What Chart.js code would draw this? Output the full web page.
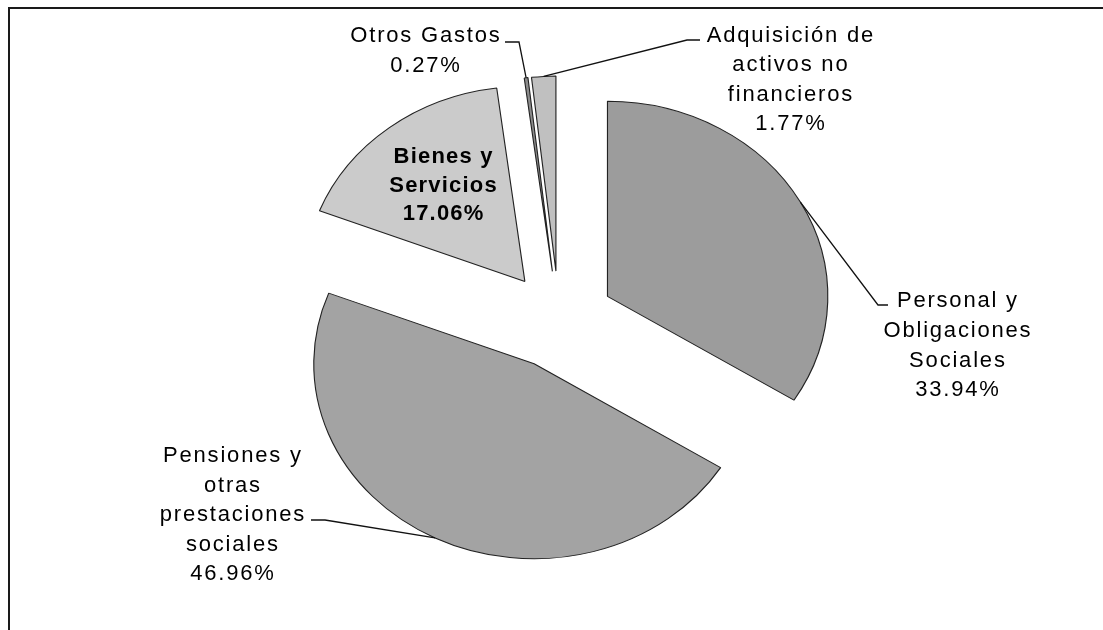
<!DOCTYPE html>
<html>
<head>
<meta charset="utf-8">
<script src="https://cdn.jsdelivr.net/npm/chart.js@4.4.0/dist/chart.umd.min.js"></script>
<style>
html,body{margin:0;padding:0;background:#fff;overflow:hidden}
canvas{display:block}
</style>
</head>
<body>
<canvas id="c" width="1103" height="630"></canvas>
<script>
// ---- data ----
const categories = [
  'Personal y Obligaciones Sociales',
  'Pensiones y otras prestaciones sociales',
  'Bienes y Servicios',
  'Otros Gastos',
  'Adquisición de activos no financieros'
];
const shares = [33.94, 46.96, 17.06, 0.27, 1.77];
const labelLines = [
  ['Personal y', 'Obligaciones', 'Sociales'],
  ['Pensiones y', 'otras', 'prestaciones', 'sociales'],
  ['Bienes y', 'Servicios'],
  ['Otros Gastos'],
  ['Adquisición de', 'activos no', 'financieros']
];
const sliceColors = ['#9c9c9c', '#a3a3a3', '#cbcbcb', '#8c8c8c', '#c0c0c0'];

// ---- layout (text anchors, leader elbows) ----
const labelLayout = [
  { x: 957, y: 307, lh: 29.8, lead: [[878, 305], [888, 305]] },
  { x: 232, y: 462, lh: 29.5, lead: [[325, 520], [311, 520]] },
  { x: 443, y: 163, lh: 28.5, bold: true },
  { x: 425, y: 42,  lh: 30,   lead: [[519, 42], [505, 42]] },
  { x: 790, y: 42,  lh: 29.4, lead: [[687, 40], [700, 40]] }
];
const EXPLODE = 49;     // radial shift of every slice
const STRETCH = 1.13;   // horizontal stretch of the pie

const explodePlugin = {
  id: 'explode',
  afterDatasetUpdate(chart, args) {
    args.meta.data.forEach(arc => {
      const mid = (arc.startAngle + arc.endAngle) / 2;
      arc.x += Math.cos(mid) * EXPLODE;
      arc.y += Math.sin(mid) * EXPLODE;
    });
  },
  beforeDatasetsDraw(chart) {
    const ctx = chart.ctx;
    const cx = (chart.chartArea.left + chart.chartArea.right) / 2;
    ctx.save();
    ctx.translate(cx, 0);
    ctx.scale(STRETCH, 1);
    ctx.translate(-cx, 0);
  },
  afterDatasetsDraw(chart) {
    chart.ctx.restore();
  }
};

const framePlugin = {
  id: 'frame',
  beforeDraw(chart) {
    const ctx = chart.ctx;
    ctx.save();
    ctx.fillStyle = '#fff';
    ctx.fillRect(0, 0, chart.width, chart.height);
    ctx.strokeStyle = '#1a1a1a';
    ctx.lineWidth = 2;
    ctx.beginPath();
    ctx.moveTo(9, chart.height);
    ctx.lineTo(9, 8);
    ctx.lineTo(chart.width, 8);
    ctx.stroke();
    ctx.restore();
  }
};

const labelPlugin = {
  id: 'labels',
  afterDraw(chart) {
    const ctx = chart.ctx;
    const meta = chart.getDatasetMeta(0);
    const cx = (chart.chartArea.left + chart.chartArea.right) / 2;
    ctx.save();
    meta.data.forEach((arc, i) => {
      const L = labelLayout[i];
      const mid = (arc.startAngle + arc.endAngle) / 2;
      if (L.lead) {
        const px = arc.x + Math.cos(mid) * arc.outerRadius;
        const py = arc.y + Math.sin(mid) * arc.outerRadius;
        const sx = cx + (px - cx) * STRETCH;
        ctx.strokeStyle = '#111';
        ctx.lineWidth = 1.3;
        ctx.beginPath();
        ctx.moveTo(sx, py);
        L.lead.forEach(p => ctx.lineTo(p[0], p[1]));
        ctx.stroke();
      }
      const lines = labelLines[i].concat([shares[i].toFixed(2) + '%']);
      ctx.fillStyle = '#000';
      ctx.textAlign = 'center';
      ctx.textBaseline = 'alphabetic';
      const ls = L.bold ? 1.2 : 1.8;
      ctx.font = (L.bold ? 'bold ' : '') + '22px "Liberation Sans", Arial, sans-serif';
      try { ctx.letterSpacing = ls + 'px'; } catch (e) {}
      lines.forEach((t, k) => {
        ctx.fillText(t, L.x + ls / 2, L.y + k * L.lh);
      });
    });
    ctx.restore();
  }
};

new Chart(document.getElementById('c'), {
  type: 'pie',
  data: {
    labels: categories,
    datasets: [{
      data: shares,
      backgroundColor: sliceColors,
      borderColor: '#222',
      borderWidth: 1,
      clip: false
    }]
  },
  options: {
    responsive: false,
    animation: false,
    radius: 195,
    layout: { padding: { left: 15, top: 10, right: 0, bottom: 0 } },
    plugins: {
      legend: { display: false },
      tooltip: { enabled: false },
      title: { display: false }
    },
    events: []
  },
  plugins: [framePlugin, explodePlugin, labelPlugin]
});
</script>
</body>
</html>
